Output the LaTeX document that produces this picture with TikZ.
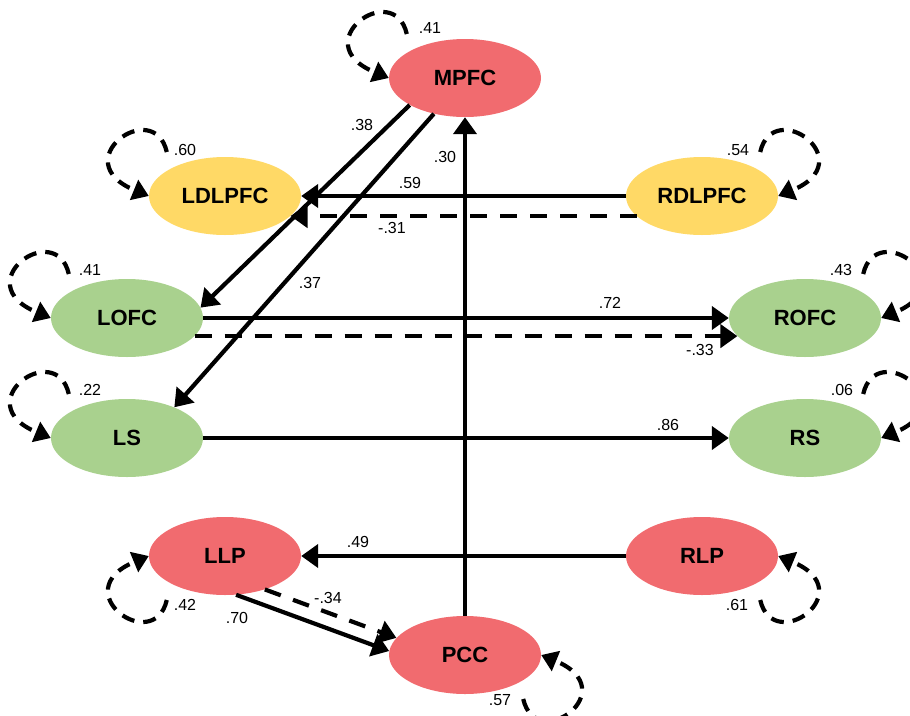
\documentclass[tikz,border=0pt]{standalone}
\usepackage{fontspec}
\setmainfont{Liberation Sans}
\usetikzlibrary{shapes.geometric,arrows.meta}
\definecolor{nred}{RGB}{241,107,111}
\definecolor{nyel}{RGB}{255,217,102}
\definecolor{ngrn}{RGB}{169,209,142}
\tikzset{
 nd/.style={ellipse, minimum width=152pt, minimum height=78pt, inner sep=0pt, font=\fontsize{22}{22}\selectfont\bfseries},
 lbl/.style={font=\fontsize{16}{16}\selectfont, inner sep=0pt},
 arr/.style={line width=4.2pt, -{Triangle[length=17pt,width=23pt]}},
 darr/.style={arr, dash pattern=on 17pt off 13pt},
 eloop/.style={line width=4.2pt, dash pattern=on 13pt off 9pt, -{Triangle[length=16pt,width=21pt]}},
}
\begin{document}
\begin{tikzpicture}[x=1pt,y=-1pt]
\useasboundingbox (0,0) rectangle (910,715);
% nodes
\node[nd, fill=nred] (MPFC) at (465,78) {MPFC};
\node[nd, fill=nyel] (LDLPFC) at (225,196) {LDLPFC};
\node[nd, fill=nyel] (RDLPFC) at (702,196) {RDLPFC};
\node[nd, fill=ngrn] (LOFC) at (127,318) {LOFC};
\node[nd, fill=ngrn] (ROFC) at (805,318) {ROFC};
\node[nd, fill=ngrn] (LS) at (127,438) {LS};
\node[nd, fill=ngrn] (RS) at (805,438) {RS};
\node[nd, fill=nred] (LLP) at (225,556) {LLP};
\node[nd, fill=nred] (RLP) at (702,556) {RLP};
\node[nd, fill=nred] (PCC) at (465,655) {PCC};
% paths
\draw[arr] (MPFC.206) -- (LOFC.8);
\draw[arr] (MPFC.229) -- (LS.33);
\draw[arr] (PCC.north) -- (MPFC.south);
\draw[arr] (RDLPFC.west) -- (LDLPFC.east);
\draw[darr] (RDLPFC.197) -- (LDLPFC.-17);
\draw[arr] (LOFC.east) -- (ROFC.west);
\draw[darr] (LOFC.-15) -- (ROFC.195);
\draw[arr] (LS.east) -- (RS.west);
\draw[arr] (RLP.west) -- (LLP.east);
\draw[arr] (LLP.-74) -- (PCC.177);
\draw[darr] (LLP.-40) -- (PCC.166);
% error loops
\coordinate (sMPFC) at ([shift={(18,-44)}]MPFC.west);
\draw[eloop] (sMPFC) .. controls +(-13,-56) and +(-85,-35) .. (MPFC.west);
\coordinate (sLDLPFC) at ([shift={(18,-44)}]LDLPFC.west);
\draw[eloop] (sLDLPFC) .. controls +(-13,-56) and +(-85,-35) .. (LDLPFC.west);
\coordinate (sLOFC) at ([shift={(18,-44)}]LOFC.west);
\draw[eloop] (sLOFC) .. controls +(-13,-56) and +(-85,-35) .. (LOFC.west);
\coordinate (sLS) at ([shift={(18,-44)}]LS.west);
\draw[eloop] (sLS) .. controls +(-13,-56) and +(-85,-35) .. (LS.west);
\coordinate (sRDLPFC) at ([shift={(-18,-44)}]RDLPFC.east);
\draw[eloop] (sRDLPFC) .. controls +(13,-56) and +(85,-35) .. (RDLPFC.east);
\coordinate (sROFC) at ([shift={(-18,-44)}]ROFC.east);
\draw[eloop] (sROFC) .. controls +(13,-56) and +(85,-35) .. (ROFC.east);
\coordinate (sRS) at ([shift={(-18,-44)}]RS.east);
\draw[eloop] (sRS) .. controls +(13,-56) and +(85,-35) .. (RS.east);
\coordinate (sLLP) at ([shift={(18,44)}]LLP.west);
\draw[eloop] (sLLP) .. controls +(-13,56) and +(-85,35) .. (LLP.west);
\coordinate (sRLP) at ([shift={(-18,44)}]RLP.east);
\draw[eloop] (sRLP) .. controls +(13,56) and +(85,35) .. (RLP.east);
\coordinate (sPCC) at ([shift={(-18,44)}]PCC.east);
\draw[eloop] (sPCC) .. controls +(13,56) and +(85,35) .. (PCC.east);
% labels
\node[lbl] (eMPFC) at (430,28) {.41};
\node[lbl] (e38) at (362,125) {.38};
\node[lbl] (e30) at (445,157) {.30};
\node[lbl] (eLDLPFC) at (185,150) {.60};
\node[lbl] (eRDLPFC) at (738,150) {.54};
\node[lbl] (e59) at (410,183) {.59};
\node[lbl] (e31) at (392,228) {-.31};
\node[lbl] (eLOFC) at (90,270) {.41};
\node[lbl] (e37) at (310,283) {.37};
\node[lbl] (e72) at (610,303) {.72};
\node[lbl] (eROFC) at (841,270) {.43};
\node[lbl] (e33) at (700,350) {-.33};
\node[lbl] (eLS) at (90,390) {.22};
\node[lbl] (eRS) at (842,390) {.06};
\node[lbl] (e86) at (668,425) {.86};
\node[lbl] (e49) at (358,542) {.49};
\node[lbl] (eLLP) at (185,605) {.42};
\node[lbl] (e34) at (328,598) {-.34};
\node[lbl] (e70) at (237,618) {.70};
\node[lbl] (eRLP) at (737,605) {.61};
\node[lbl] (ePCC) at (500,700) {.57};
\end{tikzpicture}
\end{document}
